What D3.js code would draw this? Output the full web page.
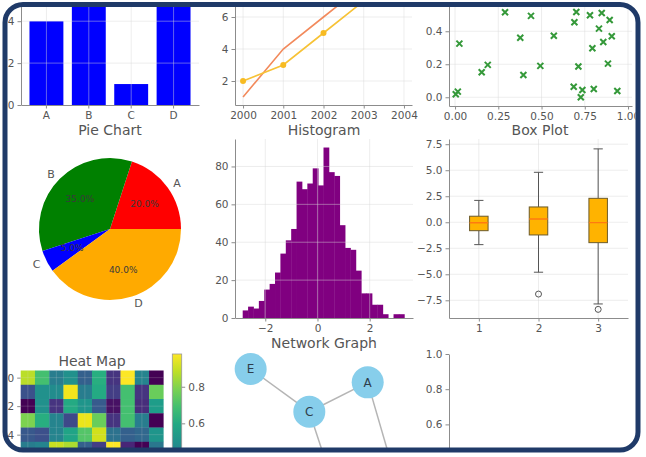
<!DOCTYPE html>
<html>
<head>
<meta charset="utf-8">
<script src="https://cdn.jsdelivr.net/npm/d3@7"></script>
<style>
body{margin:0;background:#fff;}
text{font-family:"DejaVu Sans",sans-serif;}
</style>
</head>
<body>
<div id="main"></div>
<script>
/* Size */
const width=646,height=457;

/* Data */
const barCats=["A","B","C","D"];
const barValues=[4,7,1,8];

const years=[2000,2001,2002,2003,2004];
const lineOrange=[1,4,6,8,10];
const lineYellow=[2,3,5,7,11];

const scatterX=[0.025,0.016,0.004,0.154,0.189,0.289,0.377,0.395,0.439,0.493,0.571,0.686,0.690,0.701,
  0.713,0.727,0.736,0.780,0.794,0.802,0.832,0.848,0.857,0.884,0.894,0.906,0.938];
const scatterY=[0.325,0.034,0.018,0.152,0.196,0.515,0.361,0.135,0.493,0.190,0.373,0.064,0.455,0.517,
  0.186,0.0,0.044,0.497,0.297,0.050,0.416,0.511,0.335,0.204,0.468,0.370,0.038];

const pieLabels=["A","B","C","D"];
const pieShares=[20,35,5,40];
const pieColors=["#ff0000","#008000","#0000ff","#ffaa00"];

const histCounts=[4,6,5,9,15,18,24,34,41,47,72,68,71,79,70,90,77,75,49,37,36,25,13,13,7,7,2,0,2,2];
const histRange=[-2.865,3.327];

const boxGroups=[1,2,3];
const boxLow=[-2.15,-4.8,-7.85];
const boxQ1=[-0.81,-1.22,-1.96];
const boxMedian=[-0.05,0.32,-0.04];
const boxQ3=[0.58,1.47,2.3];
const boxHigh=[2.1,4.8,7.05];
const boxOutliers=[[],[-6.9],[-8.37]];

const heatRows=[
  [0.88,0.69,0.42,0.50,0.31,0.62,0.16,0.98,0.45,0.02],
  [0.26,0.50,0.48,0.96,0.42,0.60,0.19,0.69,0.16,0.76],
  [0.02,0.50,0.16,0.60,0.52,0.29,0.06,0.69,0.14,0.55],
  [0.79,0.62,0.45,0.23,0.95,0.76,0.16,0.69,0.42,0.02],
  [0.28,0.25,0.45,0.58,0.72,0.91,0.38,0.31,0.34,0.52],
  [0.42,0.45,0.90,0.86,0.31,0.19,0.98,0.12,0.02,0.40]
];
const heatRange=[0.017,0.979];

const netNodes=[
  {id:"E",x:-0.824,y:0.83},
  {id:"C",x:-0.165,y:0.344},
  {id:"A",x:0.491,y:0.678},
  {id:"D",x:0.124,y:-0.545},
  {id:"B",x:0.849,y:-0.568}
];
const netEdges=[["E","C"],["C","A"],["C","D"],["A","B"]];

/* Svg + frame clip */
const svg=d3.select("#main").append("svg").attr("width",width).attr("height",height);
svg.append("rect").attr("width",width).attr("height",height).attr("fill","#fff");
svg.append("defs").append("clipPath").attr("id","frameClip").append("rect")
  .attr("x",7.5).attr("y",7).attr("width",628).attr("height",441).attr("rx",15);
const g=svg.append("g").attr("clip-path","url(#frameClip)");

const axisColor="#8c8c8c", textColor="#555";

function styleAxis(sel){
  sel.attr("font-family","DejaVu Sans").attr("font-size",10.5);
  sel.select(".domain").attr("stroke",axisColor);
  sel.selectAll(".tick line").attr("stroke",axisColor);
  sel.selectAll(".tick text").attr("fill",textColor);
}
// only ticks that fall inside the frame are labelled
function leftAxis(scale,x,ticks,fmt){
  g.append("g").attr("transform",`translate(${x},0)`)
    .call(d3.axisLeft(scale).tickValues(ticks).tickFormat(fmt).tickSize(3.5).tickSizeOuter(0).tickPadding(3))
    .call(styleAxis);
}
function bottomAxis(scale,y,ticks,fmt){
  g.append("g").attr("transform",`translate(0,${y})`)
    .call(d3.axisBottom(scale).tickValues(ticks).tickFormat(fmt).tickSize(3.5).tickSizeOuter(0).tickPadding(3))
    .call(styleAxis);
}
function grid(xs,xTicks,ys,yTicks,x0,x1,y0,y1,op){
  const gg=g.append("g").attr("stroke","#d8d8d8").attr("stroke-opacity",op||0.45).attr("stroke-width",1);
  xTicks.forEach(t=>gg.append("line").attr("x1",xs(t)).attr("x2",xs(t)).attr("y1",y0).attr("y2",y1));
  yTicks.forEach(t=>gg.append("line").attr("x1",x0).attr("x2",x1).attr("y1",ys(t)).attr("y2",ys(t)));
}
function title(txt,x,y){
  g.append("text").attr("x",x).attr("y",y).attr("text-anchor","middle")
    .attr("font-size",14).attr("fill",textColor).text(txt);
}

/* Bar chart (row 1, col 1) */
{
  const x=d3.scaleBand().domain(barCats).range([21,199]).paddingInner(0.2).paddingOuter(0.2);
  const y=d3.scaleLinear().domain([0,8.4]).range([105,-71]);
  g.selectAll(".bar").data(barValues).enter().append("rect")
    .attr("x",(d,i)=>x(barCats[i])).attr("width",x.bandwidth())
    .attr("y",d=>y(d)).attr("height",d=>y(0)-y(d)).attr("fill","#0000ff");
  grid(c=>x(c)+x.bandwidth()/2,barCats,y,[2,4,6,8],21,199,-71,105);
  leftAxis(y,21,[0,2,4],d3.format("d"));
  bottomAxis(x,105,barCats,d=>d);
}

/* Line chart (row 1, col 2) */
{
  const x=d3.scaleLinear().domain([1999.8,2004.2]).range([235,412]);
  const y=d3.scaleLinear().domain([0.5,11.5]).range([105,-71]);
  const line=d3.line().x((d,i)=>x(years[i])).y(d=>y(d));
  grid(x,years,y,[2,4,6,8,10],235,412,-71,105);
  g.append("path").attr("d",line(lineOrange)).attr("fill","none").attr("stroke","#f28a5c").attr("stroke-width",1.6);
  g.append("path").attr("d",line(lineYellow)).attr("fill","none").attr("stroke","#f7c236").attr("stroke-width",1.6);
  g.selectAll(".ym").data(lineYellow).enter().append("circle")
    .attr("cx",(d,i)=>x(years[i])).attr("cy",d=>y(d)).attr("r",3).attr("fill","#f7bb22");
  leftAxis(y,235,[2,4,6],d3.format("d"));
  bottomAxis(x,105,years,d3.format("d"));
  title("Pie Chart",110,135);
}

/* Scatter (row 1, col 3) */
{
  const x=d3.scaleLinear().domain([-0.035,1.023]).range([449,632]);
  const y=d3.scaleLinear().domain([-0.053,1.05]).range([106,-76]);
  grid(x,[0,0.25,0.5,0.75,1],y,[0,0.2,0.4,0.6,0.8,1],449,632,-76,106);
  g.selectAll(".sx").data(scatterX).enter().append("path")
    .attr("transform",(d,i)=>`translate(${x(d)},${y(scatterY[i])})`)
    .attr("d","M-3,-3L3,3M-3,3L3,-3").attr("stroke","#35993a").attr("stroke-width",2);
  leftAxis(y,449,[0,0.2,0.4],d3.format(".1f"));
  bottomAxis(x,106,[0,0.25,0.5,0.75,1],d3.format(".2f"));
  title("Histogram",324,135);
  title("Box Plot",540,135);
}

/* Pie (row 2, col 1) */
{
  const cx=110,cy=229,r=71;
  const pie=d3.pie().sort(null).value(d=>d).startAngle(Math.PI/2).endAngle(Math.PI/2-2*Math.PI);
  const arcs=pie(pieShares);
  const arc=d3.arc().innerRadius(0).outerRadius(r);
  const pg=g.append("g").attr("transform",`translate(${cx},${cy})`);
  pg.selectAll("path").data(arcs).enter().append("path").attr("d",arc).attr("fill",(d,i)=>pieColors[i]);
  const pos=(d,k)=>{const a=(d.startAngle+d.endAngle)/2;return [k*r*Math.sin(a),-k*r*Math.cos(a)];};
  pg.selectAll(".lab").data(arcs).enter().append("text")
    .attr("x",d=>pos(d,1.1)[0]).attr("y",d=>pos(d,1.1)[1]).attr("dy","0.35em")
    .attr("text-anchor",d=>pos(d,1)[0]>0?"start":"end")
    .attr("font-size",11).attr("fill",textColor).text((d,i)=>pieLabels[i]);
  pg.selectAll(".pct").data(arcs).enter().append("text")
    .attr("x",d=>pos(d,0.6)[0]).attr("y",d=>pos(d,0.6)[1]).attr("dy","0.35em")
    .attr("text-anchor","middle").attr("font-size",9).attr("fill","#3a3a3a")
    .text(d=>d3.format(".1f")(d.data)+"%");
}

/* Histogram (row 2, col 2) */
{
  const x=d3.scaleLinear().domain([-3.16,3.66]).range([235,413]);
  const y=d3.scaleLinear().domain([0,94.5]).range([318,139]);
  const step=(histRange[1]-histRange[0])/histCounts.length;
  g.selectAll(".hb").data(histCounts).enter().append("rect")
    .attr("x",(d,i)=>x(histRange[0]+i*step)).attr("width",x(histRange[0]+step)-x(histRange[0])+0.4)
    .attr("y",d=>y(d)).attr("height",d=>y(0)-y(d)).attr("fill","#800080");
  grid(x,[-2,0,2],y,[20,40,60,80],235,413,139,318);
  leftAxis(y,235,[0,20,40,60,80],d3.format("d"));
  bottomAxis(x,318,[-2,0,2],d3.format("d"));
  title("Network Graph",324,348);
}

/* Box plot (row 2, col 3) */
{
  const x=d3.scaleLinear().domain([0.5,3.5]).range([449,628]);
  const y=d3.scaleLinear().domain([-9.2,8.0]).range([318,139]);
  const bw=x(1.155)-x(1);
  grid(x,boxGroups,y,[-7.5,-5,-2.5,0,2.5,5,7.5],449,628,139,318);
  boxGroups.forEach((b,i)=>{
    const cx=x(b), bg=g.append("g");
    bg.append("line").attr("x1",cx).attr("x2",cx).attr("y1",y(boxHigh[i])).attr("y2",y(boxQ3[i])).attr("stroke","#555");
    bg.append("line").attr("x1",cx).attr("x2",cx).attr("y1",y(boxQ1[i])).attr("y2",y(boxLow[i])).attr("stroke","#555");
    [boxHigh[i],boxLow[i]].forEach(v=>bg.append("line").attr("x1",cx-bw/2).attr("x2",cx+bw/2)
      .attr("y1",y(v)).attr("y2",y(v)).attr("stroke","#555"));
    bg.append("rect").attr("x",cx-bw).attr("width",bw*2).attr("y",y(boxQ3[i])).attr("height",y(boxQ1[i])-y(boxQ3[i]))
      .attr("fill","#ffb300").attr("stroke","#6b5a2a").attr("stroke-width",1);
    bg.append("line").attr("x1",cx-bw).attr("x2",cx+bw).attr("y1",y(boxMedian[i])).attr("y2",y(boxMedian[i]))
      .attr("stroke","#ff7a10").attr("stroke-width",1.4);
    boxOutliers[i].forEach(v=>bg.append("circle").attr("cx",cx).attr("cy",y(v)).attr("r",3)
      .attr("fill","none").attr("stroke","#555"));
  });
  leftAxis(y,449,[-7.5,-5,-2.5,0,2.5,5,7.5],d3.format(".1f"));
  bottomAxis(x,318,boxGroups,d3.format("d"));
}

/* Heat map (row 3, col 1) */
{
  const cols=d3.range(10);
  const x=d3.scaleBand().domain(cols).range([20.7,163.3]);
  const y=d3.scaleBand().domain(d3.range(10)).range([370.5,513.1]);
  const color=d3.scaleSequential(d3.interpolateViridis).domain(heatRange);
  heatRows.forEach((row,r)=>{
    g.selectAll(".c"+r).data(row).enter().append("rect")
      .attr("x",(d,c)=>x(c)).attr("y",y(r)).attr("width",x.bandwidth()+0.3).attr("height",y.bandwidth()+0.3)
      .attr("fill",d=>color(d));
  });
  const xc=c=>x(c)+x.bandwidth()/2, yc=r=>y(r)+y.bandwidth()/2;
  grid(xc,[0,2,4,6,8],yc,[0,2,4],20.7,163.3,370.5,513.1,0.2);
  g.append("g").attr("transform","translate(20.7,0)")
    .call(d3.axisLeft(d3.scaleLinear().domain([-0.5,9.5]).range([370.5,513.1])).tickValues([0,2,4])
      .tickFormat(d3.format("d")).tickSize(3.5).tickPadding(3))
    .call(styleAxis).select(".domain").remove();
  title("Heat Map",92,366);

  // colorbar
  const grad=svg.select("defs").append("linearGradient").attr("id","cbar")
    .attr("x1",0).attr("y1",1).attr("x2",0).attr("y2",0);
  d3.range(11).forEach(i=>grad.append("stop").attr("offset",i/10).attr("stop-color",d3.interpolateViridis(i/10)));
  g.append("rect").attr("x",172.3).attr("y",354).attr("width",9.4).attr("height",176)
    .attr("fill","url(#cbar)").attr("stroke","#999").attr("stroke-width",0.8);
  const cs=d3.scaleLinear().domain(heatRange).range([530,354]);
  g.append("g").attr("transform","translate(181.7,0)")
    .call(d3.axisRight(cs).tickValues([0.6,0.8]).tickFormat(d3.format(".1f")).tickSize(3.5).tickPadding(3))
    .call(styleAxis).select(".domain").remove();
}

/* Network graph (row 3, col 2) */
{
  const x=d3.scaleLinear().domain([-1,1]).range([235,413]);
  const y=d3.scaleLinear().domain([-1,1]).range([530,354]);
  const byId=Object.fromEntries(netNodes.map(n=>[n.id,n]));
  g.selectAll(".edge").data(netEdges).enter().append("line")
    .attr("x1",d=>x(byId[d[0]].x)).attr("y1",d=>y(byId[d[0]].y))
    .attr("x2",d=>x(byId[d[1]].x)).attr("y2",d=>y(byId[d[1]].y))
    .attr("stroke","#b5b5b5").attr("stroke-width",1.5);
  g.selectAll(".node").data(netNodes).enter().append("circle")
    .attr("cx",d=>x(d.x)).attr("cy",d=>y(d.y)).attr("r",16).attr("fill","#87ceeb");
  g.selectAll(".nlab").data(netNodes.filter(n=>y(n.y)<450)).enter().append("text")
    .attr("x",d=>x(d.x)).attr("y",d=>y(d.y)).attr("dy","0.36em").attr("text-anchor","middle")
    .attr("font-size",12).attr("fill","#2f3d4c").text(d=>d.id);
}

/* Empty plot (row 3, col 3) */
{
  const y=d3.scaleLinear().domain([0,1]).range([530,354]);
  leftAxis(y,449,[0.6,0.8,1],d3.format(".1f"));
}

/* Frame */
svg.append("rect").attr("x",5).attr("y",4.5).attr("width",633).attr("height",445.5).attr("rx",18)
  .attr("fill","none").attr("stroke","#1f3a68").attr("stroke-width",5);
</script>
</body>
</html>
